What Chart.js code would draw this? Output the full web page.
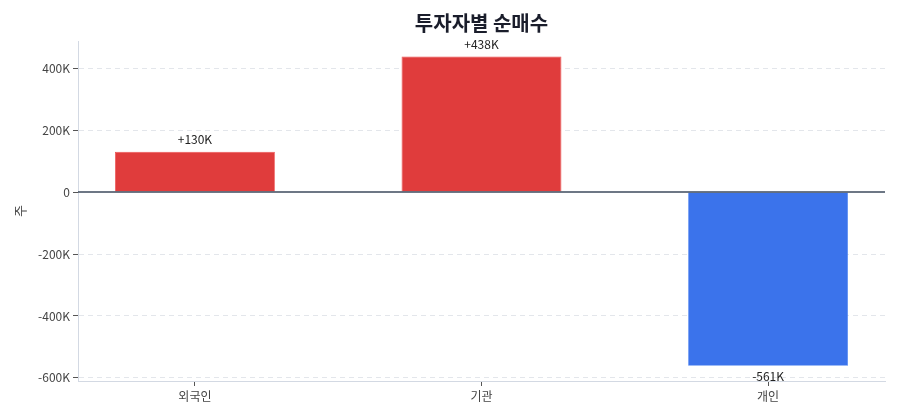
<!DOCTYPE html>
<html><head><meta charset="utf-8">
<script src="https://cdn.jsdelivr.net/npm/chart.js@4/dist/chart.umd.min.js"></script>
<style>html,body{margin:0;padding:0;background:#fff}#w{width:900px;height:420px}</style>
</head><body><div id="w"><canvas id="c"></canvas></div>
<script>
const categories = ['외국인', '기관', '개인'];
const netBuy = [130000, 438000, -561000];
const valueLabels = ['+130K', '+438K', '-561K'];
const yTicks = [-600000, -400000, -200000, 0, 200000, 400000];

const FONT = '"Noto Sans CJK KR", "Noto Sans", sans-serif';

const labelPlugin = {
  id: 'valLabels',
  afterLayout(chart) {
    if (chart.titleBlock) {
      chart.titleBlock.left = chart.chartArea.left;
      chart.titleBlock.right = chart.chartArea.right;
    }
  },
  afterDatasetsDraw(chart) {
    const ctx = chart.ctx;
    const ys = chart.scales.y, xs = chart.scales.x, a = chart.chartArea;
    const y0 = ys.getPixelForValue(0);
    ctx.save();
    ctx.strokeStyle = '#3d4a5c';
    ctx.lineWidth = 1.5;
    ctx.beginPath(); ctx.moveTo(a.left, y0); ctx.lineTo(a.right, y0); ctx.stroke();
    ctx.font = '12px ' + FONT;
    ctx.fillStyle = '#222';
    ctx.textAlign = 'center';
    ctx.textBaseline = 'middle';
    netBuy.forEach((v, i) => {
      const x = xs.getPixelForValue(i);
      const y = ys.getPixelForValue(v);
      ctx.fillText(valueLabels[i], x, v >= 0 ? y - 12 : y + 11);
    });
    ctx.restore();
  }
};

new Chart(document.getElementById('c'), {
  type: 'bar',
  data: {
    datasets: [{
      data: netBuy.map((v, i) => ({x: i, y: v})),
      backgroundColor: netBuy.map(v => v >= 0 ? '#E03C3C' : '#3B73EB'),
      borderColor: netBuy.map(v => v >= 0 ? '#EE5050' : '#5085F0'),
      borderWidth: 0.8,
      barPercentage: 0.558,
      categoryPercentage: 1
    }]
  },
  options: {
    responsive: true,
    maintainAspectRatio: false,
    animation: false,
    layout: {padding: {left: 0, right: 15, top: 0, bottom: 0}},
    plugins: {
      legend: {display: false},
      tooltip: {enabled: false},
      title: {
        display: true,
        text: '투자자별 순매수',
        color: '#1a1d2b',
        font: {family: FONT, size: 20, weight: 'bold'},
        padding: {top: 11, bottom: 6}
      }
    },
    scales: {
      x: {
        type: 'linear',
        offset: false,
        min: -0.408,
        max: 2.408,
        afterBuildTicks: s => { s.ticks = categories.map((c, i) => ({value: i})); },
        afterFit: s => { s.height = 39; },
        ticks: {
          callback: v => categories[v],
          color: '#444',
          font: {family: FONT, size: 12},
          padding: 3,
          maxRotation: 0
        },
        grid: {offset: false, drawOnChartArea: false, drawTicks: true, tickLength: 5, tickColor: '#555', tickWidth: 1},
        border: {display: true, color: '#d3d9e3', width: 1}
      },
      y: {
        min: -610000,
        max: 488000,
        afterBuildTicks: s => { s.ticks = yTicks.map(v => ({value: v})); },
        afterFit: s => { s.width = 78; },
        title: {
          display: true,
          text: '주',
          color: '#444',
          font: {family: FONT, size: 13},
          padding: {top: 12, bottom: 0}
        },
        ticks: {
          callback: v => v === 0 ? '0' : (v / 1000) + 'K',
          color: '#444',
          font: {family: FONT, size: 12},
          padding: 3
        },
        grid: {
          color: c => (c.tick && c.tick.value === 0) ? 'rgba(0,0,0,0)' : '#e3e6eb',
          lineWidth: 1,
          drawTicks: true,
          tickLength: 5,
          tickColor: '#555',
          tickBorderDash: []
        },
        border: {display: true, color: '#d3d9e3', width: 1, dash: [5, 4]}
      }
    }
  },
  plugins: [labelPlugin]
});
</script>
</body></html>
